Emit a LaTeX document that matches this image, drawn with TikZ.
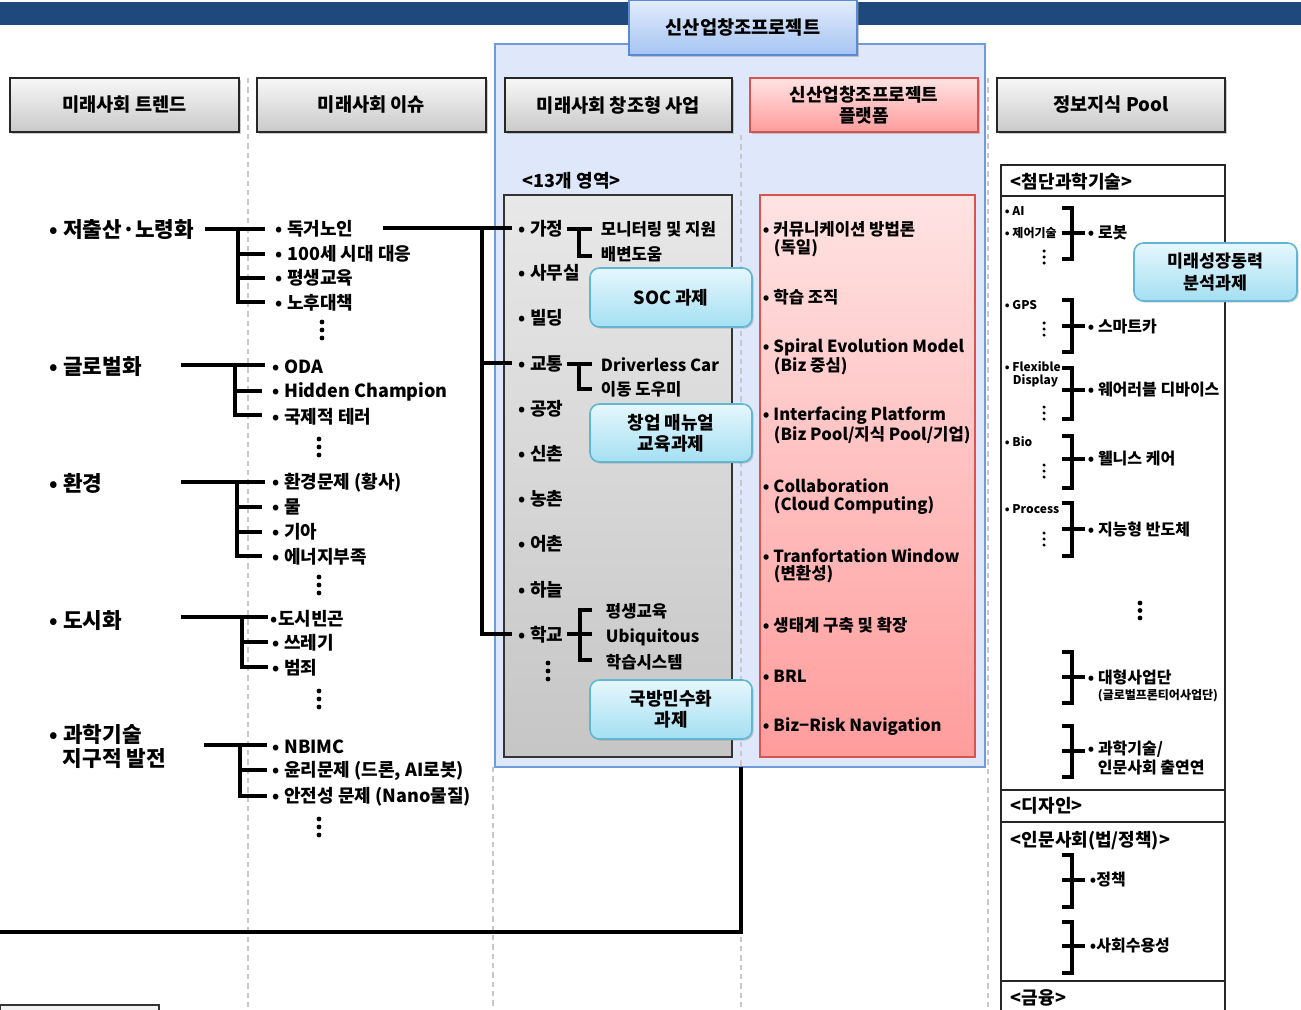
\documentclass[tikz,border=0pt]{standalone}
\usepackage{fontspec}
\setmainfont{Noto Sans CJK KR}
\usetikzlibrary{shadows}
\definecolor{barblue}{HTML}{1F497D}
\definecolor{contfill}{HTML}{DFE8FA}
\definecolor{contdraw}{HTML}{6F9BDA}
\definecolor{ttop}{HTML}{E2ECFC}
\definecolor{tbot}{HTML}{A6C4F2}
\definecolor{tdraw}{HTML}{5A8AD4}
\definecolor{ptop}{HTML}{FFE3E3}
\definecolor{pbot}{HTML}{FF9C9C}
\definecolor{pdraw}{HTML}{D9534F}
\definecolor{ctop}{HTML}{E6F7FD}
\definecolor{cbot}{HTML}{A4DFF2}
\definecolor{cdraw}{HTML}{62B6D2}
\definecolor{dashc}{HTML}{C8C8C8}
\newcommand\mydots[4]{\foreach \k in {0,1,2} \fill (#1,{#2+\k*#3}) circle[radius=#4];}
\newcommand\myRbr[3]{\draw[sbr] (1062,#1) -- (1072,#1) -- (1072,#2) -- (1062,#2); \draw[sbr] (1062,#3) -- (1085,#3);}
\tikzset{
 x=0.75pt, y=-0.75pt,
 bx/.style n args={4}{inner sep=0pt, minimum width={(#3-#1)*0.75pt}, minimum height={(#4-#2)*0.75pt}, at={({(#1+#3)/2},{(#2+#4)/2})}},
 hdr/.style={draw=black!85, line width=0.9pt, top color=gray!6, bottom color=gray!42, drop shadow={shadow xshift=1.5pt, shadow yshift=-1.5pt, opacity=0.4}, font=\bfseries\fontsize{14}{19}\selectfont},
 pinkhdr/.style={hdr, draw=pdraw, top color=ptop, bottom color=pbot, align=center, font=\bfseries\fontsize{13.5}{15.5}\selectfont},
 titlebox/.style={hdr, draw=tdraw, top color=ttop, bottom color=tbot, font=\bfseries\fontsize{14}{17}\selectfont},
 callout/.style={rounded corners=7pt, draw=cdraw, line width=1.2pt, top color=ctop, bottom color=cbot, drop shadow={shadow xshift=1.2pt, shadow yshift=-1.2pt, opacity=0.35}, align=center, font=\bfseries\fontsize{13.5}{16}\selectfont},
 txt/.style={anchor=west, inner sep=2pt, font=\bfseries\fontsize{13.5}{16}\selectfont},
 trend/.style={txt, font=\bfseries\fontsize{16}{19}\selectfont},
 issue/.style={txt},
 area/.style={txt},
 sub/.style={txt, font=\bfseries\fontsize{12.5}{15}\selectfont},
 pinkt/.style={txt, font=\bfseries\fontsize{12.5}{15}\selectfont},
 tiny/.style={txt, font=\bfseries\fontsize{9}{11}\selectfont},
 ritem/.style={txt, font=\bfseries\fontsize{12}{14}\selectfont},
 rhead/.style={txt, font=\bfseries\fontsize{13.5}{16}\selectfont},
 br/.style={line width=2.3pt, black},
 sbr/.style={line width=2.3pt, black},
 gridline/.style={dashc, line width=0.9pt, dash pattern=on 4pt off 3pt},
}
\begin{document}
\begin{tikzpicture}
\useasboundingbox (0,0) rectangle (1301,1009);
% separators
\draw[gridline] (248,78) -- (248,1009);
\draw[gridline] (493,767) -- (493,1009);
\draw[gridline] (741,78) -- (741,1009);
\draw[gridline] (988,78) -- (988,1009);
% top bar
\fill[barblue] (0,2) rectangle (1301,25);
% container
\node (cont) [bx={495}{44}{985}{767}, draw=contdraw, line width=1pt, fill=contfill] {};
\draw[gridline] (741,135) -- (741,767);
\node (title) [titlebox, bx={629}{0}{857}{55}] {신산업창조프로젝트};
% headers
\node (h1) [hdr, bx={10}{78}{239}{132}] {미래사회 트렌드};
\node (h2) [hdr, bx={257}{78}{486}{132}] {미래사회 이슈};
\node (h3) [hdr, bx={505}{78}{732}{132}] {미래사회 창조형 사업};
\node (h4) [pinkhdr, bx={750}{78}{978}{132}] {신산업창조프로젝트\\플랫폼};
\node (h5) [hdr, bx={997}{78}{1225}{132}] {정보지식 Pool};

% ---- trends
\node (t1) [trend] at (47,230) {• 저출산·노령화};
\node (t2) [trend] at (47,367) {• 글로벌화};
\node (t3) [trend] at (47,483) {• 환경};
\node (t4) [trend] at (47,621) {• 도시화};
\node (t5) [trend] at (47,734) {• 과학기술};
\node (t5b) [trend] at (60,759) {지구적 발전};

% ---- issues
\node (i11) [issue] at (273,229) {• 독거노인};
\node (i12) [issue] at (273,254) {• 100세 시대 대응};
\node (i13) [issue] at (273,278) {• 평생교육};
\node (i14) [issue] at (273,303) {• 노후대책};
\node (i21) [issue] at (270,367) {• ODA};
\node (i22) [issue] at (270,392) {• Hidden Champion};
\node (i23) [issue] at (270,417) {• 국제적 테러};
\node (i31) [issue] at (270,483) {• 환경문제 (황사)};
\node (i32) [issue] at (270,507) {• 물};
\node (i33) [issue] at (270,532) {• 기아};
\node (i34) [issue] at (270,557) {• 에너지부족};
\node (i41) [issue] at (268,619) {•도시빈곤};
\node (i42) [issue] at (270,643) {• 쓰레기};
\node (i43) [issue] at (270,668) {• 범죄};
\node (i51) [issue] at (270,747) {• NBIMC};
\node (i52) [issue] at (270,771) {• 윤리문제 (드론, AI로봇)};
\node (i53) [issue] at (270,797) {• 안전성 문제 (Nano물질)};

% brackets trends -> issues
\draw[br] (205,229) -- (265,229);
\draw[br] (238,229) -- (238,302) -- (265,302);
\draw[br] (238,254) -- (265,254);
\draw[br] (238,278) -- (265,278);
\draw[br] (181,365) -- (265,365);
\draw[br] (235,365) -- (235,415) -- (262,415);
\draw[br] (235,391) -- (262,391);
\draw[br] (181,482) -- (265,482);
\draw[br] (237,482) -- (237,556) -- (262,556);
\draw[br] (237,507) -- (262,507);
\draw[br] (237,532) -- (262,532);
\draw[br] (181,617) -- (268,617);
\draw[br] (242,617) -- (242,667) -- (268,667);
\draw[br] (242,642) -- (268,642);
\draw[br] (204,745) -- (267,745);
\draw[br] (240,745) -- (240,796) -- (267,796);
\draw[br] (240,770) -- (267,770);
\mydots{322}{322}{8}{1.8pt}
\mydots{319}{439}{8}{1.8pt}
\mydots{319}{577}{8}{1.8pt}
\mydots{319}{691}{8}{1.8pt}
\mydots{319}{819}{8}{1.8pt}

% ---- gray box
\node (a13) [txt] at (520,181) {<13개 영역>};
\node (gbox) [bx={504}{195}{732}{757}, draw=black!80, line width=1pt, top color=gray!18, bottom color=gray!45] {};
\node (g1) [area] at (516,229) {• 가정};
\node (g2) [area] at (516,273) {• 사무실};
\node (g3) [area] at (516,318) {• 빌딩};
\node (g4) [area] at (516,364) {• 교통};
\node (g5) [area] at (516,409) {• 공장};
\node (g6) [area] at (516,454) {• 신촌};
\node (g7) [area] at (516,499) {• 농촌};
\node (g8) [area] at (516,544) {• 어촌};
\node (g9) [area] at (516,590) {• 하늘};
\node (g10) [area] at (516,635) {• 학교};
\mydots{548}{663}{8}{1.8pt}
\node (s1) [sub] at (598,229) {모니터링 및 지원};
\node (s2) [sub] at (598,254) {배변도움};
\node (s3) [sub] at (598,365) {Driverless Car};
\node (s4) [sub] at (598,389) {이동 도우미};
\node (s5) [sub] at (603,611) {평생교육};
\node (s6) [sub] at (603,637) {Ubiquitous};
\node (s7) [sub] at (603,662) {학습시스템};
\draw[sbr] (567,229) -- (592,229);
\draw[sbr] (579,229) -- (579,256) -- (592,256);
\draw[sbr] (567,364) -- (592,364);
\draw[sbr] (579,364) -- (579,389) -- (592,389);
\draw[sbr] (567,634) -- (592,634);
\draw[sbr] (592,610) -- (580,610) -- (580,660) -- (592,660);

% long connector issue -> areas
\draw[br] (383,228) -- (512,228);
\draw[br] (482,228) -- (482,634) -- (512,634);
\draw[br] (482,363) -- (512,363);

% bottom connector
\coordinate (cb) at (741,767);
\coordinate (lb) at (0,932);
\draw[line width=2.5pt] (cb) |- (lb);
% bottom-left box edge
\node (blbox) [bx={0}{1005}{159}{1025}, draw=black!80, line width=1pt, fill=gray!10] {};

% ---- callouts
\node (c1) [callout, bx={590}{268}{752}{327}] {SOC 과제};
\node (c2) [callout, bx={590}{404}{752}{462}] {창업 매뉴얼\\교육과제};
\node (c3) [callout, bx={590}{680}{752}{739}] {국방민수화\\과제};

% ---- pink box
\node (pbox) [bx={760}{195}{975}{757}, draw=pdraw, line width=1pt, top color=ptop, bottom color=pbot] {};
\node (p1) [pinkt] at (760,229) {• 커뮤니케이션 방법론};
\node (p1b) [pinkt] at (771,248) {(독일)};
\node (p2) [pinkt] at (760,297) {• 학습 조직};
\node (p3) [pinkt] at (760,347) {• Spiral Evolution Model};
\node (p3b) [pinkt] at (771,366) {(Biz 중심)};
\node (p4) [pinkt] at (760,416) {• Interfacing Platform};
\node (p4b) [pinkt] at (771,435) {(Biz Pool/지식 Pool/기업)};
\node (p5) [pinkt] at (760,486) {• Collaboration};
\node (p5b) [pinkt] at (771,505) {(Cloud Computing)};
\node (p6) [pinkt] at (760,556) {• Tranfortation Window};
\node (p6b) [pinkt] at (771,574) {(변환성)};
\node (p7) [pinkt] at (760,625) {• 생태계 구축 및 확장};
\node (p8) [pinkt] at (760,676) {• BRL};
\node (p9) [pinkt] at (760,727) {• Biz−Risk Navigation};

% ---- right column
\node (rcol) [bx={1001}{165}{1225}{1025}, draw=black!85, line width=1pt, fill=white] {};
\draw[black!85, line width=1pt] (1001,196) -- (1225,196);
\draw[black!85, line width=1pt] (1001,790) -- (1225,790);
\draw[black!85, line width=1pt] (1001,822) -- (1225,822);
\draw[black!85, line width=1pt] (1001,981) -- (1225,981);
\node (r0) [rhead] at (1008,182) {<첨단과학기술>};
\node (rd) [rhead] at (1008,806) {<디자인>};
\node (rh) [rhead] at (1008,841) {<인문사회(법/정책)>};
\node (rf) [rhead] at (1008,998) {<금융>};

\node (l1) [tiny] at (1002,211) {• AI};
\node (l2) [tiny] at (1002,233) {• 제어기술};
\node (l3) [tiny] at (1002,305) {• GPS};
\node (l4) [tiny] at (1002,367) {• Flexible};
\node (l4b) [tiny] at (1010,381) {Display};
\node (l5) [tiny] at (1002,442) {• Bio};
\node (l6) [tiny] at (1002,509) {• Process};
\mydots{1044}{251}{6}{1.3pt}
\mydots{1044}{323}{6}{1.3pt}
\mydots{1044}{407}{6}{1.3pt}
\mydots{1044}{465}{6}{1.3pt}
\mydots{1044}{533}{6}{1.3pt}
\mydots{1140}{603}{7.5}{1.8pt}

\myRbr{208}{259}{233}
\myRbr{300}{352}{326}
\myRbr{368}{419}{390}
\myRbr{436}{488}{459}
\myRbr{503}{556}{529}
\myRbr{652}{703}{677}
\myRbr{726}{777}{751}
\myRbr{855}{907}{880}
\myRbr{922}{973}{946}

\node (r1) [ritem] at (1085,233) {• 로봇};
\node (r2) [ritem] at (1085,326) {• 스마트카};
\node (r3) [ritem] at (1085,390) {• 웨어러블 디바이스};
\node (r4) [ritem] at (1085,459) {• 웰니스 케어};
\node (r5) [ritem] at (1085,529) {• 지능형 반도체};
\node (r6) [ritem] at (1085,677) {• 대형사업단};
\node (r6b) [txt, font=\bfseries\fontsize{9}{11}\selectfont] at (1095,696) {(글로벌프론티어사업단)};
\node (r7) [ritem] at (1085,749) {• 과학기술/};
\node (r7b) [ritem] at (1095,768) {인문사회 출연연};
\node (r8) [ritem] at (1087,880) {•정책};
\node (r9) [ritem] at (1087,946) {•사회수용성};

\node (c4) [callout, bx={1134}{243}{1297}{301}, font=\bfseries\fontsize{13}{16}\selectfont] {미래성장동력\\분석과제};
\end{tikzpicture}
\end{document}
